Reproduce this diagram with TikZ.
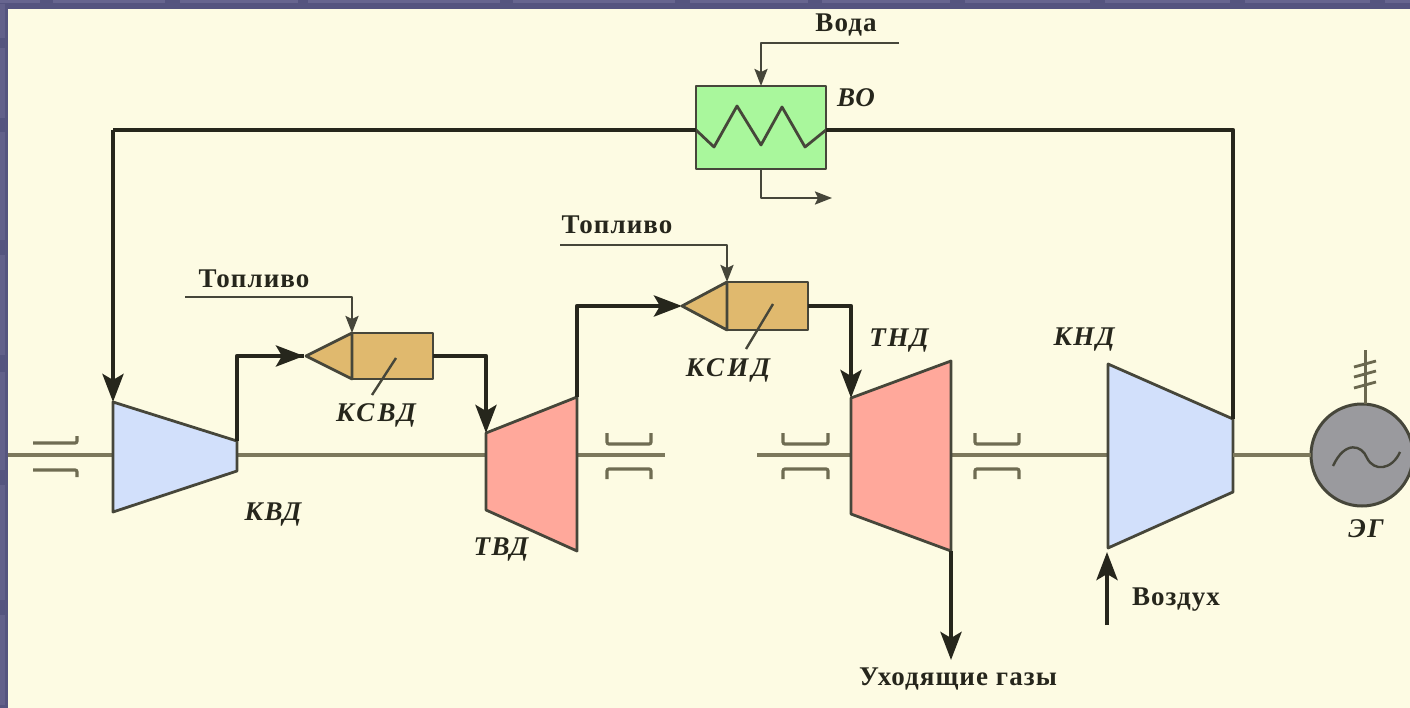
\documentclass[tikz,border=0pt]{standalone}
\usepackage{fontspec}
\setmainfont{Liberation Serif}
\usetikzlibrary{arrows.meta,calc}
\definecolor{framebg}{HTML}{55547F}
\definecolor{framelt}{HTML}{67658F}
\definecolor{panel}{HTML}{FDFBE3}
\definecolor{ink}{HTML}{26261C}
\definecolor{shaftc}{HTML}{7C785C}
\definecolor{bluef}{HTML}{D2E0FB}
\definecolor{redf}{HTML}{FFA89B}
\definecolor{tanf}{HTML}{E0B96E}
\definecolor{greenf}{HTML}{A9F79C}
\definecolor{genf}{HTML}{9A9A9E}
\newfontfamily\labf[LetterSpace=4]{Liberation Serif}
\newfontfamily\ilabf[LetterSpace=6]{Liberation Serif}
\newfontfamily\ilabwf[LetterSpace=12]{Liberation Serif}
\tikzset{
  shaftline/.style={draw=shaftc,line width=3.8pt},
  flow/.style={draw=ink,line width=4.4pt,line join=round},
  flowtip/.style={flow,-{Stealth[length=28pt,width=21pt,inset=6pt]}},
  thin flow/.style={draw=ink!85!panel,line width=2.4pt,line join=round},
  thin tip/.style={thin flow,-{Stealth[length=17pt,width=13pt,inset=3pt]}},
  unit/.style={draw=ink!85!panel,line width=2.8pt,line join=round},
  bearing/.style={draw=shaftc!85!ink,line width=3.2pt,rounded corners=2pt},
  lab/.style={inner sep=0pt,text=ink,anchor=base,font=\labf\fontsize{27}{30}\selectfont\bfseries},
  ilab/.style={inner sep=0pt,text=ink,anchor=base,font=\ilabf\fontsize{27}{31}\selectfont\bfseries\itshape},
  ilabw/.style={inner sep=0pt,text=ink,anchor=base,font=\ilabwf\fontsize{27}{31}\selectfont\bfseries\itshape},
  box/.style={inner sep=0pt,outer sep=0pt,minimum width=0pt},
}
\begin{document}
\begin{tikzpicture}[x=1pt,y=-1pt]
\useasboundingbox (0,0) rectangle (1410,708);
% frame and panel
\fill[framebg] (0,0) rectangle (1410,708);
\foreach \a/\b in {0/40,53/165,180/298,308/500,513/675,690/808,822/950,965/1090,1105/1230,1245/1370,1385/1410}
  \fill[framelt] (\a,0) rectangle (\b,3.5);
\foreach \a/\b in {4/38,48/118,132/240,255/355,372/470,485/600,615/705}
  \fill[framelt!70!framebg] (0,\a) rectangle (5,\b);
\fill[panel] (8,9) rectangle (1410,708);

% named points
\coordinate (kvdA) at (113,402); \coordinate (kvdB) at (237,441);
\coordinate (kvdC) at (237,471); \coordinate (kvdD) at (113,512);
\coordinate (tvdA) at (486,433); \coordinate (tvdB) at (577,397);
\coordinate (tvdC) at (577,551); \coordinate (tvdD) at (486,510);
\coordinate (tndA) at (851,398); \coordinate (tndB) at (951,361);
\coordinate (tndC) at (951,551); \coordinate (tndD) at (851,514);
\coordinate (kndA) at (1108,364); \coordinate (kndB) at (1233,419);
\coordinate (kndC) at (1233,492); \coordinate (kndD) at (1108,548);

% shafts
\coordinate (s0) at (8,455); \coordinate (s1) at (113,455);
\coordinate (s2) at (237,455); \coordinate (s3) at (486,455);
\coordinate (s4) at (577,455); \coordinate (s5) at (665,455);
\coordinate (s6) at (757,455); \coordinate (s7) at (851,455);
\coordinate (s8) at (951,455); \coordinate (s9) at (1108,455);
\coordinate (s10) at (1233,455);
\draw[shaftline] (s0)--(s1);
\draw[shaftline] (s2)--(s3);
\draw[shaftline] (s4)--(s5);
\draw[shaftline] (s6)--(s7);
\draw[shaftline] (s8)--(s9);

% bearings
\draw[bearing] (33,443)--(77,443)--(77,436);
\draw[bearing] (33,470)--(77,470)--(77,477);
\foreach \x/\e in {607/651,783/828,975/1019}{
  \draw[bearing] (\x,433)--(\x,444)--(\e,444)--(\e,433);
  \draw[bearing] (\x,479)--(\x,469)--(\e,469)--(\e,479);
}

% machines
\path[fill=bluef,unit] (kvdA)--(kvdB)--(kvdC)--(kvdD)--cycle;
\path[fill=redf,unit] (tvdA)--(tvdB)--(tvdC)--(tvdD)--cycle;
\path[fill=redf,unit] (tndA)--(tndB)--(tndC)--(tndD)--cycle;
\path[fill=bluef,unit] (kndA)--(kndB)--(kndC)--(kndD)--cycle;

% combustors
\node[box,fill=tanf,unit,minimum width=81pt,minimum height=46pt] (ksvd) at (392.5,356) {};
\coordinate (ksvdTip) at (306,356);
\path[fill=tanf,unit] (ksvd.north west)--(ksvdTip)--(ksvd.south west)--cycle;
\node[box,fill=tanf,unit,minimum width=81pt,minimum height=48pt] (ksid) at (767.5,306) {};
\coordinate (ksidTip) at (682,306);
\path[fill=tanf,unit] (ksid.north west)--(ksidTip)--(ksid.south west)--cycle;
\coordinate (ksvdL0) at (372,395); \coordinate (ksvdL1) at (396,358);
\draw[thin flow] (ksvdL0)--(ksvdL1);
\coordinate (ksidL0) at (746,349); \coordinate (ksidL1) at (773,304);
\draw[thin flow] (ksidL0)--(ksidL1);

% water cooler
\node[box,fill=greenf,unit,minimum width=130pt,minimum height=83pt] (vo) at (761,127.5) {};
\coordinate (voL) at (696,130); \coordinate (voR) at (826,130);
\draw[thin flow,line width=2.8pt] (voL)--(714,147)--(737,106)--(761,145)--(782,107)--(805,147)--(voR);

% generator
\node[box,circle,fill=genf,unit,line width=3pt,minimum size=102pt] (gen) at (1362,455) {};
\draw[shaftline] (s10)--(gen.west);
\draw[thin flow] (1333,466) .. controls (1345,440) and (1362,445) .. (1367,458)
  .. controls (1374,472) and (1392,470) .. (1400,452);
\coordinate (ant) at (1365,350);
\draw[draw=shaftc!80!ink,line width=3pt] (ant)--(gen.north-|ant);
\foreach \y in {364,374,385}
  \draw[draw=shaftc!80!ink,line width=2.8pt] (1354,\y+3)--(1376,\y-3);

% working-fluid connectors
\coordinate (c1) at (113,130);
\draw[flow] (voL)--(c1);
\draw[flowtip] (c1)--(kvdA);
\coordinate (m1) at (304,356);
\coordinate (m1b) at (285,356);
\draw[flow] (kvdB)|-(m1);
\draw[flowtip] (m1b)--(m1);
\draw[flowtip] (ksvd.east)-|(tvdA);
\draw[flowtip] (tvdB)|-(ksidTip);
\draw[flowtip] (ksid.east)-|(tndA);
\coordinate (gasEnd) at (951,660);
\draw[flowtip] (tndC)--(gasEnd);
\coordinate (airStart) at (1107,625);
\coordinate (airEnd) at (1107,552);
\draw[flowtip] (airStart)--(airEnd);
\draw[flow] (voR)-|(kndB);

% thin connectors
\coordinate (wIn) at (899,43); \coordinate (wOut) at (832,198);
\draw[thin tip] (wIn)-|(vo.north);
\draw[thin tip] (vo.south)|-(wOut);
\coordinate (f1) at (185,297); \coordinate (f2) at (560,245);
\draw[thin tip] (f1)-|(ksvd.north west);
\draw[thin tip] (f2)-|(ksid.north west);

% labels (base anchored)
\node[lab] (tVoda) at (846,32) {Вода};
\node[ilab] (tVO) at (856,107) {ВО};
\node[lab] (tF1) at (254,288) {Топливо};
\node[lab] (tF2) at (617,234) {Топливо};
\node[ilabw] (tKSVD) at (376,421) {КСВД};
\node[ilabw] (tKSID) at (728,376) {КСИД};
\node[ilab] (tKVD) at (273,520) {КВД};
\node[ilab] (tTVD) at (501,555) {ТВД};
\node[ilab] (tTND) at (899,347) {ТНД};
\node[ilab] (tKND) at (1084,345) {КНД};
\node[ilab] (tEG) at (1366,537) {ЭГ};
\node[lab] (tAir) at (1176,605) {Воздух};
\node[lab] (tGas) at (958,685) {Уходящие газы};
\end{tikzpicture}
\end{document}
